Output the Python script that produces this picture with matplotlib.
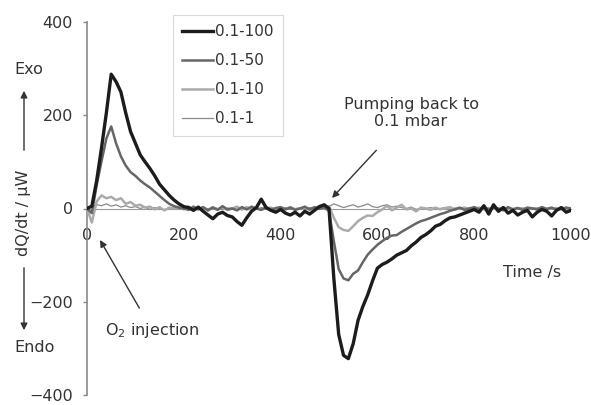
import matplotlib
matplotlib.use("Agg")
import matplotlib.pyplot as plt
import numpy as np

plt.rcParams['font.family'] = ['DejaVu Sans']

# ---- data ----
time_s = list(range(0, 1001, 10))

q_100 = [0, 5, 60, 130, 205, 288, 272, 250, 205, 165,
         140, 115, 100, 86, 70, 52, 40, 28, 18, 10,
         4, 2, -4, 3, -6, -14, -22, -12, -8, -15,
         -18, -28, -36, -20, -6, 2, 20, 2, -4, -8,
         -2, -10, -14, -8, -16, -6, -12, -4, 4, 8,
         0, -150, -270, -315, -322, -290, -240, -210, -185, -155,
         -128, -120, -115, -108, -100, -95, -90, -80, -72, -62,
         -56, -48, -38, -34, -26, -20, -18, -14, -10, -6,
         -2, -8, 6, -12, 8, -6, 2, -10, -4, -14,
         -8, -4, -18, -8, -2, -6, -16, -4, 2, -8,
         -4]

q_50 = [0, -10, 50, 101, 150, 176, 140, 112, 92, 78,
        70, 60, 52, 45, 36, 27, 18, 10, 5, 2,
        0, -3, 4, -2, 3, -4, 2, -3, 5, -2,
        0, -4, 3, -2, 4, 0, -3, 2, -4, 1,
        3, -2, 2, -3, 0, 4, -2, 3, 0, 2,
        -5, -70, -130, -150, -154, -140, -133, -115, -99, -88,
        -78, -70, -63, -58, -57, -50, -44, -38, -32, -27,
        -24, -20, -16, -12, -9, -5, -2, 2, -3, 0,
        3, -2, 4, -3, 2, 0, -4, 3, -2, 1,
        -3, 2, 0, -2, 3, -1, 2, -3, 0, 2,
        0]

q_10 = [0, -30, 15, 28, 22, 25, 18, 22, 10, 14,
        6, 8, 2, 4, -2, 3, -4, 2, 0, 3,
        -2, 4, -3, 2, 0, -4, 3, -2, 2, -3,
        0, 4, -2, 3, -3, 1, -2, 3, 0, -3,
        2, -1, 3, -2, 0, 2, -3, 1, 3, 0,
        5, -20, -40, -46, -48, -38, -27, -20, -15, -16,
        -8, -2, 6, -4, 2, 8, -2, 0, -6, 2,
        0, -3, 2, -2, 1, 3, -2, 0, 2, -1,
        0, 2, -2, 1, 0, -2, 2, 0, -1, 1,
        0, -2, 1, 0, 2, -1, 0, 1, -2, 0,
        0]

q_1 = [0, 4, 8, 6, 10, 5, 8, 3, 6, 2,
       4, 0, 3, -2, 2, 0, -3, 2, 0, 1,
       -2, 3, 0, -2, 2, -1, 3, 0, -2, 1,
       0, 2, -3, 1, 0, -2, 2, 0, 3, -1,
       0, 2, -2, 0, 1, -1, 2, 0, -2, 1,
       4, 10, 6, 2, 5, 8, 3, 6, 10, 4,
       2, 6, 8, 3, 5, 2, 0, 3, -2, 1,
       0, 2, -1, 0, 2, -2, 1, 0, -1, 2,
       0, -2, 1, 0, 2, -1, 0, 1, -2, 0,
       1, 0, -1, 2, 0, -2, 1, 0, -1, 0,
       0]

series_labels = ['0.1-100', '0.1-50', '0.1-10', '0.1-1']
x_ticks = [0, 200, 400, 600, 800, 1000]
y_ticks = [-400, -200, 0, 200, 400]

# ---- figure ----
W, H = 591, 405
FS = 11.5
TXT = '#333333'
fig = plt.figure(figsize=(W / 100, H / 100), dpi=100)
Y_TOP, Y_BOT = 22, 395
ax = fig.add_axes([87 / W, 1 - Y_BOT / H, (571 - 87) / W, (Y_BOT - Y_TOP) / H])

def fx(px):
    return px / W

def fy(py):
    return 1 - py / H

styles = [
    dict(color='#1c1c1c', lw=2.4, zorder=5),
    dict(color='#666666', lw=1.8, zorder=4),
    dict(color='#ababab', lw=1.8, zorder=3),
    dict(color='#8a8a8a', lw=0.9, zorder=2),
]
for vals, lab, st in zip([q_100, q_50, q_10, q_1], series_labels, styles):
    ax.plot(time_s, vals, label=lab, solid_joinstyle='round', **st)

ax.set_xlim(0, 1000)
ax.set_ylim(-400, 400)
ax.set_xticks(x_ticks)
ax.set_yticks(y_ticks)

for s in ['top', 'right']:
    ax.spines[s].set_visible(False)
ax.spines['bottom'].set_position(('data', 0))
ax.spines['bottom'].set_color('#9a9a9a')
ax.spines['bottom'].set_zorder(1)
ax.spines['left'].set_color('#8a8a8a')
ax.spines['left'].set_linewidth(1.2)

ax.tick_params(axis='x', length=0, pad=14, labelsize=FS, labelcolor=TXT)
ax.tick_params(axis='y', direction='out', length=3, width=1, color='#8a8a8a',
               pad=7, labelsize=FS, labelcolor=TXT)
ax.set_facecolor('none')

leg = ax.legend(loc='upper left', bbox_to_anchor=(fx(173), fy(15)),
                bbox_transform=fig.transFigure, frameon=True, fancybox=False,
                edgecolor='#d0d0d0', fontsize=11, handlelength=2.0,
                handletextpad=0.15, labelspacing=0.92, borderpad=0.6,
                borderaxespad=0)
leg.get_frame().set_linewidth(0.8)
for t in leg.get_texts():
    t.set_color(TXT)

# axis titles
fig.text(fx(532), fy(272), 'Time /s', ha='center', va='center', fontsize=FS, color=TXT)
fig.text(fx(24), fy(213), 'dQ/dt / µW', rotation=90, ha='center', va='center',
         fontsize=FS, color=TXT)

# Exo / Endo
fig.text(fx(29), fy(70), 'Exo', ha='center', va='center', fontsize=FS, color=TXT)
fig.text(fx(35), fy(347), 'Endo', ha='center', va='center', fontsize=FS, color=TXT)
arrow_kw = dict(arrowstyle='-|>', color=TXT, lw=1.0, mutation_scale=10)
fig.add_artist(matplotlib.patches.FancyArrowPatch((fx(24), fy(153)), (fx(24), fy(88)),
                                                  transform=fig.transFigure, **arrow_kw))
fig.add_artist(matplotlib.patches.FancyArrowPatch((fx(24), fy(265)), (fx(24), fy(333)),
                                                  transform=fig.transFigure, **arrow_kw))

# annotations
ax.annotate('O$_2$ injection', xy=(fx(100), fy(240)), xycoords='figure fraction',
            xytext=(fx(152), fy(330)), textcoords='figure fraction',
            ha='center', va='center', fontsize=FS, color=TXT,
            arrowprops=dict(arrowstyle='-|>', color=TXT, lw=1.0,
                            mutation_scale=10, shrinkA=8, shrinkB=0))
ax.annotate('Pumping back to\n0.1 mbar', xy=(fx(332), fy(198)), xycoords='figure fraction',
            xytext=(fx(411), fy(113)), textcoords='figure fraction',
            ha='center', va='center', fontsize=FS, color=TXT, linespacing=1.2,
            arrowprops=dict(arrowstyle='-|>', color=TXT, lw=1.0,
                            mutation_scale=10, shrinkA=18, shrinkB=0))

fig.savefig('out.png', dpi=100)
